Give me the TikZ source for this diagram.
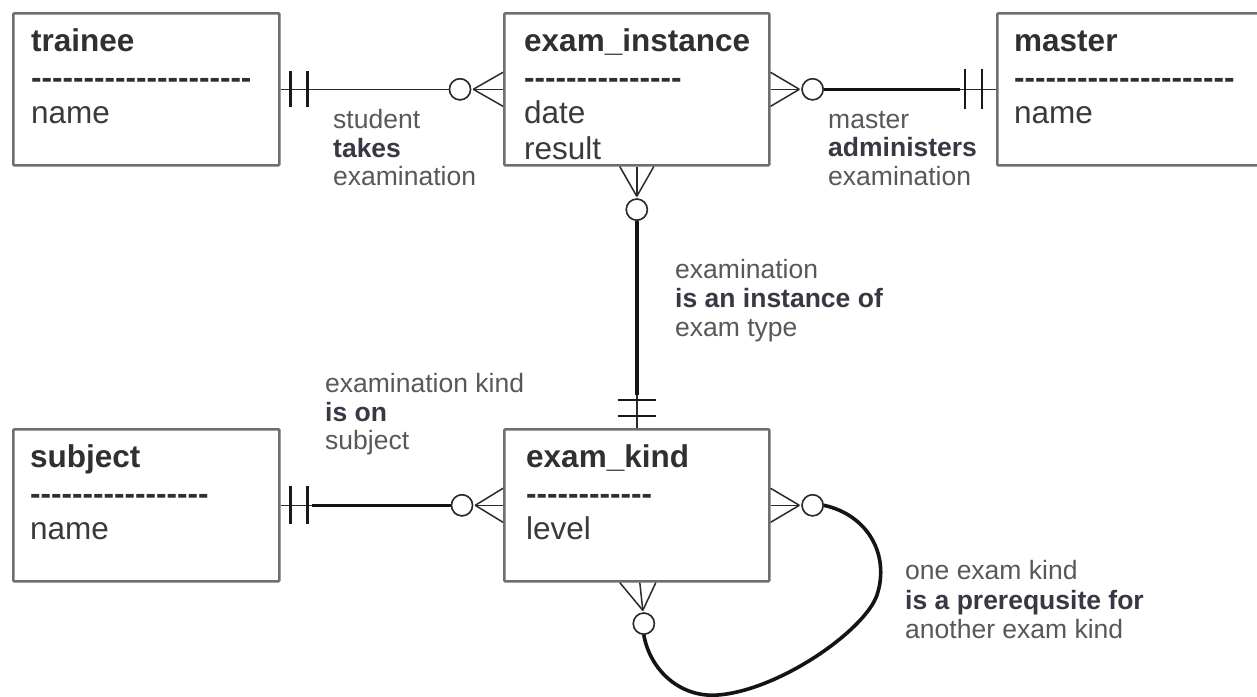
\documentclass[tikz,border=0pt]{standalone}
\usepackage{fontspec}
\setmainfont{Liberation Sans}
\usetikzlibrary{calc}
\definecolor{boxline}{HTML}{6E6E6E}
\definecolor{titlec}{HTML}{303030}
\definecolor{attrc}{HTML}{3A3A3A}
\definecolor{labc}{HTML}{585858}
\definecolor{labb}{HTML}{383844}
\definecolor{linec}{HTML}{2A2A2A}
\newcount\hycnt
\newcommand\hyrow[1]{\hycnt=#1\relax\loop-\kern0pt\advance\hycnt by -1\relax\ifnum\hycnt>0 \repeat}
\begin{document}
\begin{tikzpicture}[x=1pt,y=-1pt,
  entity/.style={draw=boxline, line width=2.6pt, rounded corners=1pt, anchor=north west, inner sep=0pt, minimum height=152pt},
  title/.style={anchor=base west, inner sep=0pt, font=\fontsize{31.5}{36}\selectfont\bfseries, text=titlec},
  dashrow/.style={anchor=base west, inner sep=0pt, font=\fontsize{31.5}{36}\selectfont\bfseries, text=titlec},
  attr/.style={anchor=base west, inner sep=0pt, font=\fontsize{31.5}{36}\selectfont, text=attrc},
  lab/.style={anchor=base west, inner sep=0pt, font=\fontsize{26.5}{29}\selectfont, text=labc},
  labbold/.style={anchor=base west, inner sep=0pt, font=\fontsize{26.5}{29}\selectfont\bfseries, text=labb},
  thinrel/.style={draw=linec, line width=1.6pt},
  thickrel/.style={draw=black!92, line width=3.6pt},
  foot/.style={draw=linec, line width=1.5pt},
  barline/.style={draw=black!90, line width=2.4pt},
  ring/.style={circle, draw=linec, fill=white, line width=1.5pt, minimum size=21pt, inner sep=0pt}
]
\useasboundingbox (0,0) rectangle (1257,696);
\fill[white] (0,0) rectangle (1257,696);

% ---------- entity boxes ----------
\node[entity, minimum width=266pt] (tr) at (12,12) {};
\node[entity, minimum width=265pt] (ei) at (503,12) {};
\node[entity, minimum width=285pt] (ma) at (996,12) {};
\node[entity, minimum width=266pt] (su) at (12,428) {};
\node[entity, minimum width=265pt] (ek) at (503,428) {};

% ---------- entity texts ----------
\node[title] (trT) at (31,51) {trainee};
\node[dashrow] (trD) at (31,88) {\hyrow{21}};
\node[attr] (trA) at (31,123) {name};

\node[title] (eiT) at (524,51) {exam\_instance};
\node[dashrow] (eiD) at (524,88) {\hyrow{15}};
\node[attr] (eiA) at (524,123) {date};
\node[attr] (eiB) at (524,159) {result};

\node[title] (maT) at (1014,51) {master};
\node[dashrow] (maD) at (1014,88) {\hyrow{21}};
\node[attr] (maA) at (1014,123) {name};

\node[title] (suT) at (30,467) {subject};
\node[dashrow] (suD) at (30,504) {\hyrow{17}};
\node[attr] (suA) at (30,539) {name};

\node[title] (ekT) at (526,467) {exam\_kind};
\node[dashrow] (ekD) at (526,504) {\hyrow{12}};
\node[attr] (ekA) at (526,539) {level};

% ---------- relationship labels ----------
\node[lab] (l1a) at (333,128) {student};
\node[labbold] (l1b) at (333,157) {takes};
\node[lab] (l1c) at (333,185) {examination};

\node[lab] (l2a) at (828,128) {master};
\node[labbold] (l2b) at (828,156) {administers};
\node[lab] (l2c) at (828,185) {examination};

\node[lab] (l3a) at (675,278) {examination};
\node[labbold] (l3b) at (675,307) {is an instance of};
\node[lab] (l3c) at (675,336) {exam type};

\node[lab] (l4a) at (325,392) {examination kind};
\node[labbold] (l4b) at (325,421) {is on};
\node[lab] (l4c) at (325,449) {subject};

\node[lab] (l5a) at (905,579) {one exam kind};
\node[labbold] (l5b) at (905,609) {is a prerequsite for};
\node[lab] (l5c) at (905,638) {another exam kind};

% ---------- ring (zero) markers ----------
\node[ring] (c1) at ($(ei.west)+(-43,0)$) {};
\node[ring] (c2) at ($(ei.east)+(42,0)$) {};
\node[ring] (c3) at ($(ei.south)+(0,43)$) {};
\node[ring] (c4) at ($(ek.west)+(-41,0)$) {};
\node[ring] (c5) at ($(ek.east)+(42,0)$) {};
\node[ring] (c6) at ($(ek.south)+(7,41)$) {};

% ---------- connector lines ----------
% trainee -- exam_instance (thin)
\draw[thinrel] (tr.east) -- (c1.west);
% exam_instance -- master
\draw[thinrel] (c2.east) -- (ma.west);
\draw[thickrel] (c2.east) -- ($(ma.west)+(-36,0)$);
% exam_instance -- exam_kind
\draw[thinrel] (c3.south) -- (ek.north);
\draw[thickrel] (c3.south) -- ($(ek.north)+(0,-33)$);
% subject -- exam_kind
\draw[thinrel] (su.east) -- (c4.west);
\draw[thickrel] ($(su.east)+(31,0)$) -- (c4.west);
% exam_kind recursive
\draw[thickrel] (c5.east) .. controls (868,515) and (890,555) .. (877,595)
   .. controls (865,630) and (780,690) .. (718,695)
   .. controls (680,698) and (650,670) .. (c6.south);

% redraw rings on top
\node[ring] at (c1) {};
\node[ring] at (c2) {};
\node[ring] at (c3) {};
\node[ring] at (c4) {};
\node[ring] at (c5) {};
\node[ring] at (c6) {};

% ---------- crow's feet ----------
\draw[foot] ($(c1.east)+(2,0)$) -- ($(ei.west)+(0,-17)$);
\draw[foot] ($(c1.east)+(2,0)$) -- (ei.west);
\draw[foot] ($(c1.east)+(2,0)$) -- ($(ei.west)+(0,17)$);

\draw[foot] ($(c2.west)+(-2,0)$) -- ($(ei.east)+(0,-17)$);
\draw[foot] ($(c2.west)+(-2,0)$) -- (ei.east);
\draw[foot] ($(c2.west)+(-2,0)$) -- ($(ei.east)+(0,17)$);

\draw[foot] ($(c3.north)+(0,-2)$) -- ($(ei.south)+(-17,0)$);
\draw[foot] ($(c3.north)+(0,-2)$) -- (ei.south);
\draw[foot] ($(c3.north)+(0,-2)$) -- ($(ei.south)+(17,0)$);

\draw[foot] ($(c4.east)+(2,0)$) -- ($(ek.west)+(0,-17)$);
\draw[foot] ($(c4.east)+(2,0)$) -- (ek.west);
\draw[foot] ($(c4.east)+(2,0)$) -- ($(ek.west)+(0,17)$);

\draw[foot] ($(c5.west)+(-2,0)$) -- ($(ek.east)+(0,-17)$);
\draw[foot] ($(c5.west)+(-2,0)$) -- (ek.east);
\draw[foot] ($(c5.west)+(-2,0)$) -- ($(ek.east)+(0,17)$);

\draw[foot] ($(c6.north)+(-1,-2)$) -- ($(ek.south)+(-17,0)$);
\draw[foot] ($(c6.north)+(-1,-2)$) -- ($(ek.south)+(3,0)$);
\draw[foot] ($(c6.north)+(-1,-2)$) -- ($(ek.south)+(19,0)$);

% ---------- one-and-only-one bars ----------
\draw[barline] ($(tr.east)+(10,-18)$) -- ($(tr.east)+(10,18)$);
\draw[barline] ($(tr.east)+(27,-18)$) -- ($(tr.east)+(27,18)$);

\draw[barline] ($(ma.west)+(-31,-20)$) -- ($(ma.west)+(-31,20)$);
\draw[barline] ($(ma.west)+(-14,-20)$) -- ($(ma.west)+(-14,20)$);

\draw[barline] ($(ek.north)+(-19,-28)$) -- ($(ek.north)+(19,-28)$);
\draw[barline] ($(ek.north)+(-19,-12)$) -- ($(ek.north)+(19,-12)$);

\draw[barline] ($(su.east)+(10,-19)$) -- ($(su.east)+(10,19)$);
\draw[barline] ($(su.east)+(27,-19)$) -- ($(su.east)+(27,19)$);
\end{tikzpicture}
\end{document}
